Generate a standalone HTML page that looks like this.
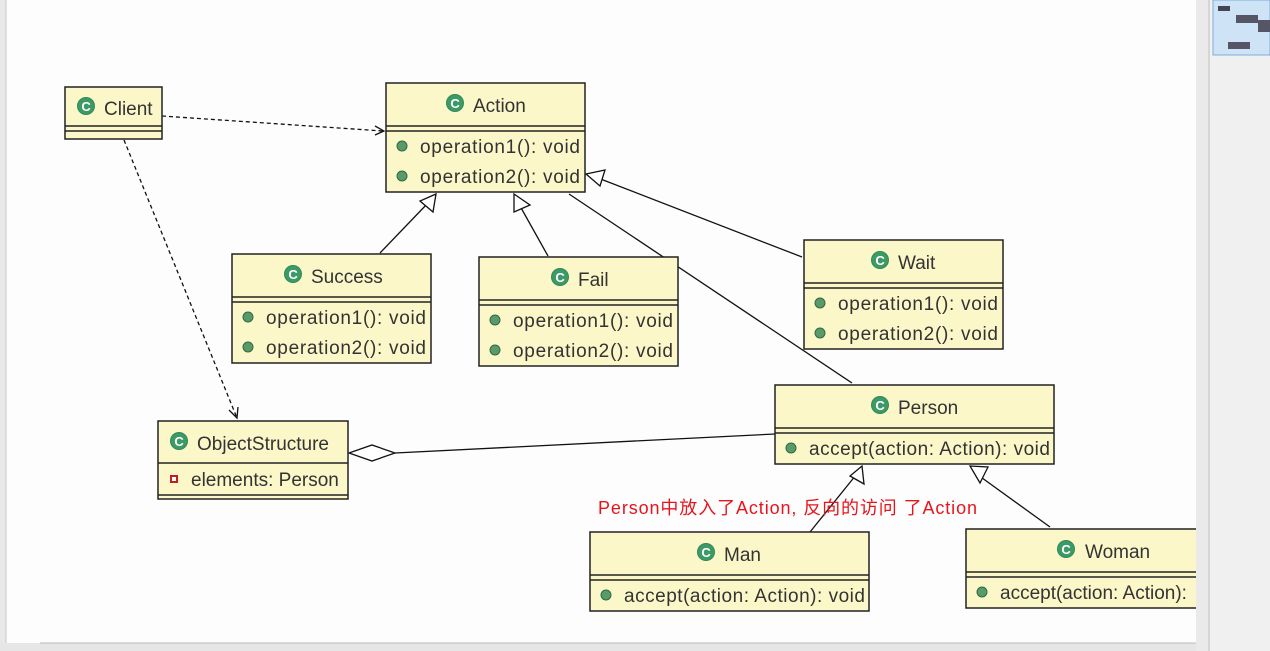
<!DOCTYPE html>
<html><head><meta charset="utf-8"><style>
html,body{margin:0;padding:0;background:#fdfdfd;}
svg{display:block;}
text{font-family:"Liberation Sans","Noto Sans CJK SC",sans-serif;fill:#333;}
</style></head><body>
<svg width="1270" height="651" viewBox="0 0 1270 651" xmlns="http://www.w3.org/2000/svg">
<defs>
<g id="ic"><circle r="9" fill="#2f8a57"/><circle r="8" fill="#3d9a66"/><text x="0" y="5" text-anchor="middle" font-size="13" font-weight="bold" style="fill:#fff">C</text></g>
<g id="dot"><circle r="5" fill="#5a9a6a" stroke="#2f6a40" stroke-width="1"/></g>
</defs>
<rect x="0" y="0" width="1270" height="651" fill="#fdfdfd"/>
<rect x="0" y="0" width="6" height="651" fill="#e8e8e8"/>
<line x1="6" y1="0" x2="6" y2="651" stroke="#c8c8c8"/>
<!-- right panel -->
<rect x="1196" y="0" width="12" height="651" fill="#eaeaea"/>
<rect x="1208" y="0" width="62" height="651" fill="#f0f0f0"/>
<line x1="1209" y1="0" x2="1209" y2="651" stroke="#bbb"/>
<rect x="1213" y="0" width="57" height="55" fill="#cfe3f7" stroke="#7aaee0"/>
<rect x="1218" y="6" width="12" height="5" fill="#445"/>
<rect x="1236" y="15" width="22" height="8" fill="#556"/>
<rect x="1228" y="42" width="22" height="7" fill="#556"/>
<rect x="1258" y="20" width="12" height="12" fill="#556"/>
<!-- bottom bar -->
<rect x="0" y="643" width="1196" height="8" fill="#e6e6e6"/>
<line x1="40" y1="643" x2="1196" y2="643" stroke="#bbb"/>

<g stroke="#111" fill="none" stroke-width="1.3">
<polyline points="162,116 383,131" stroke-dasharray="4,3"/>
<polyline points="375,126 384,131 375,135"/>
<polyline points="124,140 237,418" stroke-dasharray="4,3"/>
<polyline points="229,410 237,418 238,407"/>
<line x1="380" y1="253" x2="428" y2="203"/>
<polygon points="436,194 433,212 420,201" fill="#fff"/>
<line x1="548" y1="256" x2="520" y2="206"/>
<polygon points="514,194 530,205 514,212" fill="#fff"/>
<line x1="802" y1="257" x2="598" y2="178"/>
<polygon points="586,174 605,170 600,186" fill="#fff"/>
<line x1="852" y1="383" x2="569" y2="194"/>
<line x1="810" y1="532" x2="856" y2="475"/>
<polygon points="862,466 864,484 850,476" fill="#fff"/>
<line x1="1050" y1="527" x2="978" y2="475"/>
<polygon points="970,466 988,467 980,483" fill="#fff"/>
<line x1="395" y1="453" x2="775" y2="434"/>
<polygon points="349,453 372,445 395,453 372,461" fill="#fff"/>
</g>

<g stroke="#222" stroke-width="1.5" fill="#fbf7c9">
<rect x="65" y="87" width="97" height="52"/>
<rect x="386" y="83" width="199" height="109"/>
<rect x="232" y="254" width="199" height="109"/>
<rect x="479" y="257" width="199" height="109"/>
<rect x="804" y="240" width="199" height="109"/>
<rect x="775" y="385" width="279" height="79"/>
<rect x="158" y="421" width="190" height="78"/>
<rect x="590" y="532" width="279" height="79"/>
<rect x="966" y="529" width="240" height="79"/>
</g>
<g stroke="#222" stroke-width="1.5">
<line x1="65" y1="126" x2="162" y2="126"/><line x1="65" y1="131" x2="162" y2="131"/>
<line x1="386" y1="126" x2="585" y2="126"/><line x1="386" y1="131" x2="585" y2="131"/>
<line x1="232" y1="297" x2="431" y2="297"/><line x1="232" y1="302" x2="431" y2="302"/>
<line x1="479" y1="300" x2="678" y2="300"/><line x1="479" y1="305" x2="678" y2="305"/>
<line x1="804" y1="283" x2="1003" y2="283"/><line x1="804" y1="288" x2="1003" y2="288"/>
<line x1="775" y1="428" x2="1054" y2="428"/><line x1="775" y1="433" x2="1054" y2="433"/>
<line x1="158" y1="463" x2="348" y2="463"/><line x1="158" y1="495" x2="348" y2="495"/>
<line x1="590" y1="575" x2="869" y2="575"/><line x1="590" y1="580" x2="869" y2="580"/>
<line x1="966" y1="572" x2="1206" y2="572"/><line x1="966" y1="577" x2="1206" y2="577"/>
</g>

<g font-size="19">
<use href="#ic" x="86" y="106"/><text x="104" y="115">Client</text>
<use href="#ic" x="455" y="103"/><text x="473" y="112">Action</text>
<use href="#dot" x="402" y="146"/><text x="420" y="153" textLength="160">operation1(): void</text>
<use href="#dot" x="402" y="176"/><text x="420" y="183" textLength="160">operation2(): void</text>
<use href="#ic" x="293" y="274"/><text x="311" y="283">Success</text>
<use href="#dot" x="248" y="317"/><text x="266" y="324" textLength="160">operation1(): void</text>
<use href="#dot" x="248" y="347"/><text x="266" y="354" textLength="160">operation2(): void</text>
<use href="#ic" x="560" y="277"/><text x="578" y="286">Fail</text>
<use href="#dot" x="495" y="320"/><text x="513" y="327" textLength="160">operation1(): void</text>
<use href="#dot" x="495" y="350"/><text x="513" y="357" textLength="160">operation2(): void</text>
<use href="#ic" x="880" y="260"/><text x="898" y="269">Wait</text>
<use href="#dot" x="820" y="303"/><text x="838" y="310" textLength="160">operation1(): void</text>
<use href="#dot" x="820" y="333"/><text x="838" y="340" textLength="160">operation2(): void</text>
<use href="#ic" x="880" y="405"/><text x="898" y="414">Person</text>
<use href="#dot" x="791" y="448"/><text x="809" y="455" textLength="241">accept(action: Action): void</text>
<use href="#ic" x="179" y="441"/><text x="197" y="450">ObjectStructure</text>
<rect x="171" y="476" width="6" height="6" fill="#fff" stroke="#c02020" stroke-width="2"/>
<text x="191" y="486">elements: Person</text>
<use href="#ic" x="706" y="552"/><text x="724" y="561">Man</text>
<use href="#dot" x="606" y="595"/><text x="624" y="602" textLength="241">accept(action: Action): void</text>
<use href="#ic" x="1066" y="549"/><text x="1085" y="558">Woman</text>
<use href="#dot" x="982" y="592"/><text x="1000" y="599">accept(action: Action):</text>
</g>
<rect x="1196" y="520" width="12" height="100" fill="#eaeaea"/>
<text x="598" y="514" font-size="18" style="fill:#e8141c" textLength="379">Person中放入了Action, 反向的访问 了Action</text>
</svg>
</body></html>
